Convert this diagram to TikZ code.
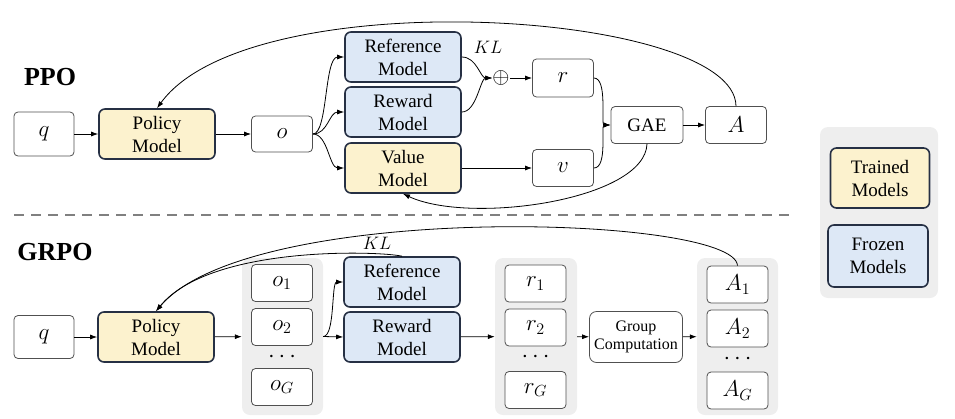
\RequirePackage{fix-cm}
\documentclass[tikz,border=0pt]{standalone}
\usepackage{fontspec}
\setmainfont{Liberation Serif}
\usetikzlibrary{arrows.meta}
\definecolor{trainy}{RGB}{252,242,206}
\definecolor{frozb}{RGB}{221,232,246}
\definecolor{bord}{RGB}{38,48,68}
\definecolor{panel}{RGB}{238,238,238}
\definecolor{wbord}{RGB}{80,80,80}
\definecolor{dashc}{RGB}{128,128,128}
\begin{document}
\begin{tikzpicture}[x=1pt,y=-1pt,
  every node/.style={font=\fontsize{19}{23}\selectfont, align=center, inner sep=0pt},
  model/.style={draw=bord, line width=1.6pt, rounded corners=6pt, minimum width=116pt, minimum height=50pt},
  trained/.style={model, fill=trainy},
  frozen/.style={model, fill=frozb},
  var/.style={draw=wbord, line width=0.8pt, rounded corners=4pt, minimum width=61pt, minimum height=37pt, fill=white, font=\fontsize{23}{25}\selectfont},
  panelbox/.style={fill=panel, rounded corners=8pt, draw=none},
  title/.style={font=\fontsize{26}{28}\selectfont\bfseries},
  lab/.style={font=\fontsize{18}{20}\selectfont},
  dots/.style={font=\fontsize{24}{26}\selectfont},
  arr/.style={-{Latex[length=7pt,width=5pt]}, line width=0.8pt},
  ln/.style={line width=0.8pt}]
\useasboundingbox (0,0) rectangle (955,418);

% ---------- PPO ----------
\node[title] (ppo) at (50,77) {PPO};
\node[var, minimum width=60pt, minimum height=44pt] (q1) at (44,134) {$q$};
\node[trained] (pol1) at (157,134) {Policy\\Model};
\node[var, minimum height=36pt] (o) at (282,134) {$o$};
\node[frozen] (ref1) at (403,57) {Reference\\Model};
\node[frozen] (rew1) at (403,112) {Reward\\Model};
\node[trained] (val) at (403,168) {Value\\Model};
\node[font=\fontsize{22}{24}\selectfont] (plus) at (501,78) {$\oplus$};
\node[lab] (kl1) at (488,47) {$KL$};
\node[var, minimum height=38pt] (r) at (563,78) {$r$};
\node[var] (v) at (563,168) {$v$};
\node[var, minimum width=72pt, font=\fontsize{19}{22}\selectfont] (gae) at (647,125) {GAE};
\node[var] (A) at (736,125) {$A$};

\draw[arr] (q1) -- (pol1);
\draw[arr] (pol1) -- (o);
\draw[arr] (o.east) .. controls +(15,0) and +(-20,0) .. (ref1.west);
\draw[arr] (o.east) .. controls +(15,0) and +(-15,0) .. (rew1.west);
\draw[arr] (o.east) .. controls +(15,0) and +(-15,0) .. (val.west);
\draw[arr] (ref1.east) .. controls +(15,0) and +(-12,0) .. (plus.west);
\draw[arr] (rew1.east) .. controls +(15,0) and +(-12,0) .. (plus.west);
\draw[arr] (plus) -- (r);
\draw[arr] (r.east) .. controls +(14,0) and +(-10,0) .. (gae.west);
\draw[arr] (v.east) .. controls +(14,0) and +(-10,0) .. (gae.west);
\draw[arr] (val) -- (v);
\draw[arr] (gae) -- (A);
\draw[arr] (A.north) .. controls (735,10) and (250,-20) .. (pol1.north);
\draw[arr] (gae.south) .. controls (645,200) and (470,225) .. (val.south);

% ---------- divider ----------
\draw[dashc, line width=2.5pt, dash pattern=on 10pt off 7pt] (14,215) -- (795,215);

% ---------- legend ----------
\node[panelbox, minimum width=118pt, minimum height=171pt] (leg) at (879,212.5) {};
\node[trained, minimum width=99pt, minimum height=60pt] (tr) at (880,178) {Trained\\Models};
\node[frozen, minimum width=100pt, minimum height=62pt] (fr) at (878,256) {Frozen\\Models};

% ---------- GRPO ----------
\node[title] (grpo) at (55,252) {GRPO};
\node[var, minimum width=60pt, minimum height=43pt] (q2) at (44,337) {$q$};
\node[trained] (pol2) at (156,337) {Policy\\Model};

\node[panelbox, minimum width=81pt, minimum height=157pt] (opan) at (282.5,336.5) {};
\node[var] (o1) at (282,283) {$o_1$};
\node[var] (o2) at (282,327) {$o_2$};
\node[dots] (od) at (282,357) {$\cdots$};
\node[var] (oG) at (282,387) {$o_G$};

\node[frozen] (ref2) at (402,282) {Reference\\Model};
\node[frozen] (rew2) at (402,337) {Reward\\Model};
\node[lab] (kl2) at (377,243) {$KL$};

\node[panelbox, minimum width=82pt, minimum height=157pt] (rpan) at (536,336.5) {};
\node[var] (r1) at (535.5,283.5) {$r_1$};
\node[var] (r2) at (535.5,327.5) {$r_2$};
\node[dots] (rd) at (535.5,357) {$\cdots$};
\node[var] (rG) at (535.5,390) {$r_G$};

\node[var, minimum width=93pt, minimum height=51pt, rounded corners=7pt, font=\fontsize{16}{18}\selectfont] (grp) at (636,337) {Group\\Computation};

\node[panelbox, minimum width=81pt, minimum height=157pt] (apan) at (737.5,336.5) {};
\node[var] (A1) at (737.5,284.5) {$A_1$};
\node[var] (A2) at (737.5,328.5) {$A_2$};
\node[dots] (ad) at (737.5,359) {$\cdots$};
\node[var] (AG) at (737.5,390.5) {$A_G$};

\draw[arr] (q2) -- (pol2);
\draw[arr] (pol2) -- (opan);
\draw[arr] (opan.east) -- (rew2.west);
\draw[arr] (opan.east) .. controls +(12,0) and +(-12,0) .. (ref2.west);
\draw[arr] (rew2) -- (rpan);
\draw[arr] (rpan) -- (grp);
\draw[arr] (grp) -- (apan);
\draw[arr] (A1.north) .. controls (735,215) and (250,200) .. (pol2.north);
\draw[arr] (ref2.north) .. controls (380,251) and (210,245) .. (pol2.north);
\end{tikzpicture}
\end{document}
